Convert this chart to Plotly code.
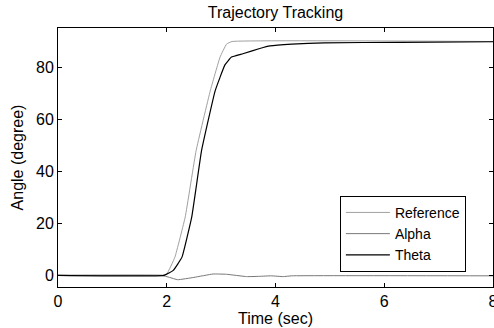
import plotly.graph_objects as go

ref_t = [0, 1.9, 2.0, 2.15, 2.34, 2.54, 2.8, 2.98, 3.1, 3.2, 8]
ref_v = [0, 0, 0.5, 7, 22.5, 48, 71, 84, 89, 90, 90]

alpha_t = [0, 1.9, 2.05, 2.2, 2.5, 2.85, 3.1, 3.47, 3.7, 3.92, 4.14, 4.3, 8]
alpha_v = [0, 0, -0.8, -1.7, -0.8, 0.5, 0.4, -0.5, -0.4, -0.2, -0.5, -0.2, -0.2]

theta_t = [0, 1.95, 2.12, 2.28, 2.46, 2.64, 2.89, 3.07, 3.19, 3.4, 3.71, 3.9, 4.3, 4.9, 6.3, 8]
theta_v = [0, 0, 1.9, 7, 22.5, 48, 71, 81, 84, 85.3, 87.3, 88.3, 89, 89.5, 89.7, 89.9]

x_ticks = [0, 2, 4, 6, 8]
y_ticks = [0, 20, 40, 60, 80]

FONT = "Liberation Sans, Arial, sans-serif"

fig = go.Figure()
fig.add_trace(go.Scatter(x=ref_t, y=ref_v, name="Reference", mode="lines",
                         line=dict(color="#a0a0a0", width=1, shape="spline", smoothing=0.3)))
fig.add_trace(go.Scatter(x=alpha_t, y=alpha_v, name="Alpha", mode="lines",
                         line=dict(color="#787878", width=1, shape="spline", smoothing=0.3)))
fig.add_trace(go.Scatter(x=theta_t, y=theta_v, name="Theta", mode="lines",
                         line=dict(color="#000000", width=1.2, shape="spline", smoothing=0.3)))

axis_common = dict(showgrid=False, zeroline=False, showline=True, linecolor="black",
                   linewidth=1, mirror="allticks", ticks="inside", ticklen=4,
                   tickcolor="black", automargin=False, ticklabeloverflow="allow",
                   tickfont=dict(family=FONT, size=16, color="black"))

fig.update_layout(
    width=494, height=328,
    margin=dict(l=58, r=1, t=28, b=41, autoexpand=False),
    paper_bgcolor="white", plot_bgcolor="white",
    font=dict(family=FONT, size=16, color="black"),
    title=dict(text="Trajectory Tracking", x=0.5, xref="paper", y=1 - 12 / 328,
               yref="container", yanchor="middle", xanchor="center",
               font=dict(family=FONT, size=16, color="black")),
    xaxis=dict(range=[0, 8], tickvals=x_ticks, ticktext=[str(v) for v in x_ticks],
               title=dict(text="Time (sec)", standoff=0, font=dict(family=FONT, size=16)),
               **axis_common),
    yaxis=dict(range=[-4.5, 95.2], tickvals=y_ticks, ticktext=[str(v) for v in y_ticks],
               title=dict(text="Angle (degree)", standoff=8, font=dict(family=FONT, size=16)),
               **axis_common),
    legend=dict(x=0.648, y=0.352, xanchor="left", yanchor="top",
                bordercolor="black", borderwidth=1, bgcolor="white",
                font=dict(family=FONT, size=14, color="black"),
                tracegroupgap=0, itemwidth=44),
    showlegend=True,
)

fig.write_html("out.html", config={"displayModeBar": False})

# remove the default page margin so the figure sits at the window's top-left corner
with open("out.html", "r", encoding="utf-8") as f:
    html = f.read()
html = html.replace("<head>", "<head><style>html,body{margin:0;padding:0;overflow:hidden;}</style>", 1)
with open("out.html", "w", encoding="utf-8") as f:
    f.write(html)
